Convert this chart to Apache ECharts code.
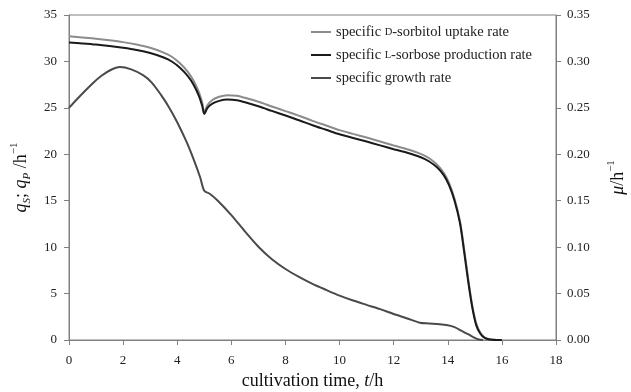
<!DOCTYPE html>
<html><head><meta charset="utf-8">
<script src="https://cdn.jsdelivr.net/npm/echarts@6/dist/echarts.min.js"></script>
<style>html,body{margin:0;padding:0;background:#fff}#c{width:631px;height:392px}</style>
</head><body><div id="c"></div>
<script>
// time (h) and values
const tQ = [0,0.5,1.0,1.5,2.0,2.5,3.0,3.5,3.8,4.1,4.4,4.6,4.8,4.92,5.0,5.12,5.3,5.55,5.85,6.2,6.6,7.0,7.5,8.0,8.5,9.0,9.5,10,10.5,11,11.5,12,12.5,13.0,13.3,13.6,13.85,14.05,14.25,14.45,14.6,14.75,14.9,15.05,15.2,15.35,15.55,15.8,16];
const qS = [32.7,32.58,32.45,32.28,32.08,31.82,31.47,30.95,30.5,29.8,28.85,27.95,26.7,25.6,24.55,25.3,25.85,26.2,26.37,26.3,26.0,25.65,25.15,24.65,24.15,23.6,23.1,22.6,22.2,21.8,21.38,20.95,20.55,20.05,19.6,18.9,18.0,16.9,15.2,12.8,9.9,6.7,3.8,1.8,0.8,0.3,0.08,0.01,0];
const qP = [32.04,31.94,31.82,31.66,31.47,31.23,30.9,30.42,29.99,29.32,28.4,27.52,26.3,25.25,24.35,25.0,25.45,25.75,25.9,25.83,25.53,25.17,24.67,24.17,23.67,23.13,22.64,22.15,21.76,21.37,20.96,20.55,20.16,19.68,19.25,18.6,17.75,16.65,15.0,12.6,9.6,6.4,3.6,1.6,0.7,0.25,0.05,0.005,0];
const tMu = [0,0.4,0.9,1.2,1.52,1.88,2.3,2.75,3.05,3.4,3.7,4.0,4.35,4.6,4.85,5.0,5.2,5.5,6.0,6.5,7.0,7.5,8.0,8.5,9.0,9.5,10.0,10.5,11.0,11.5,12.0,12.5,12.97,13.3,13.7,14.0,14.25,14.5,14.75,15.0,15.15,15.3];
const mu = [0.250,0.2625,0.277,0.2845,0.2905,0.294,0.2915,0.285,0.2775,0.264,0.2505,0.2345,0.213,0.195,0.175,0.1607,0.1575,0.150,0.1345,0.117,0.1005,0.087,0.0765,0.068,0.0605,0.054,0.0478,0.0425,0.0378,0.0332,0.028,0.0232,0.0186,0.0178,0.017,0.0158,0.0138,0.010,0.0062,0.0022,0.0005,0];
const seriesNames = ['specific D-sorbitol uptake rate','specific L-sorbose production rate','specific growth rate'];

const F = '"Liberation Serif","Times New Roman",serif';
const axisGray = '#808080';
const zip = (a,b)=>a.map((x,i)=>[x,b[i]]);

const chart = echarts.init(document.getElementById('c'), null, {renderer:'canvas'});
chart.setOption({
  animation:false,
  backgroundColor:'#fff',
  grid:{left:69,right:75,top:15,bottom:52,show:true,borderColor:axisGray,borderWidth:1,backgroundColor:'transparent',
        containLabel:false,outerBoundsMode:'none'},
  legend:{
    orient:'vertical', left:311, top:24, padding:0, itemWidth:20, itemHeight:2, itemGap:7, itemTextGap:3, icon:'rect',
    data:seriesNames,
    formatter:function(n){
      if(n===seriesNames[0]) return '{a|specific }{sc|D}{a|-sorbitol uptake rate}';
      if(n===seriesNames[1]) return '{a|specific }{sc|L}{a|-sorbose production rate}';
      return '{a|specific growth rate}';
    },
    textStyle:{fontFamily:F,fontSize:14.5,color:'#222',lineHeight:16,
      rich:{a:{fontFamily:F,fontSize:14.5,color:'#222'},sc:{fontFamily:F,fontSize:10.5,color:'#222'}}}
  },
  xAxis:{type:'value',min:0,max:18,interval:2,
    name:'{n|cultivation time, }{i|t}{n|/h}',nameLocation:'middle',nameGap:30,
    nameTextStyle:{rich:{n:{fontFamily:F,fontSize:18,color:'#111'},i:{fontFamily:F,fontSize:18,fontStyle:'italic',color:'#111'}}},
    axisLine:{show:true,lineStyle:{color:axisGray,width:1}},
    axisTick:{show:true,length:5,lineStyle:{color:axisGray}},
    axisLabel:{fontFamily:F,fontSize:13,color:'#222',margin:14},
    splitLine:{show:false}},
  yAxis:[{type:'value',min:0,max:35,interval:5,position:'left',
    name:'{i|q}{sub|S}{n|; }{i|q}{sub|P}{n| /h}{sup|−1}',nameLocation:'middle',nameRotate:90,nameGap:24,
    nameTextStyle:{rich:{
      i:{fontFamily:F,fontSize:18,fontStyle:'italic',color:'#111',lineHeight:24,verticalAlign:'middle'},
      n:{fontFamily:F,fontSize:18,color:'#111',lineHeight:24,verticalAlign:'middle'},
      sub:{fontFamily:F,fontSize:11,fontStyle:'italic',color:'#111',lineHeight:24,verticalAlign:'bottom'},
      sup:{fontFamily:F,fontSize:11,color:'#111',lineHeight:24,verticalAlign:'top'}}},
    axisLine:{show:true,lineStyle:{color:axisGray,width:1}},
    axisTick:{show:true,length:5,lineStyle:{color:axisGray}},
    axisLabel:{fontFamily:F,fontSize:13,color:'#222',margin:12},
    splitLine:{show:false}},
   {type:'value',min:0,max:0.35,interval:0.05,position:'right',
    name:'{i|μ}{n|/h}{sup|−1}',nameLocation:'middle',nameRotate:90,nameGap:50,
    nameTextStyle:{rich:{
      i:{fontFamily:F,fontSize:18,fontStyle:'italic',color:'#111',lineHeight:24,verticalAlign:'middle'},
      n:{fontFamily:F,fontSize:18,color:'#111',lineHeight:24,verticalAlign:'middle'},
      sup:{fontFamily:F,fontSize:11,color:'#111',lineHeight:24,verticalAlign:'top'}}},
    axisLine:{show:true,lineStyle:{color:axisGray,width:1}},
    axisTick:{show:true,length:5,lineStyle:{color:axisGray}},
    axisLabel:{fontFamily:F,fontSize:13,color:'#222',margin:11,formatter:v=>v.toFixed(2)},
    splitLine:{show:false}}],
  series:[
    {name:seriesNames[0],type:'line',data:zip(tQ,qS),yAxisIndex:0,showSymbol:false,smooth:0.3,
      lineStyle:{color:'#8c8c8c',width:2},itemStyle:{color:'#8c8c8c'},z:3},
    {name:seriesNames[1],type:'line',data:zip(tQ,qP),yAxisIndex:0,showSymbol:false,smooth:0.3,
      lineStyle:{color:'#1a1a1a',width:2},itemStyle:{color:'#1a1a1a'},z:4},
    {name:seriesNames[2],type:'line',data:zip(tMu,mu),yAxisIndex:1,showSymbol:false,smooth:0.3,
      lineStyle:{color:'#4a4a4a',width:2},itemStyle:{color:'#4a4a4a'},z:2}
  ]
});
</script></body></html>
